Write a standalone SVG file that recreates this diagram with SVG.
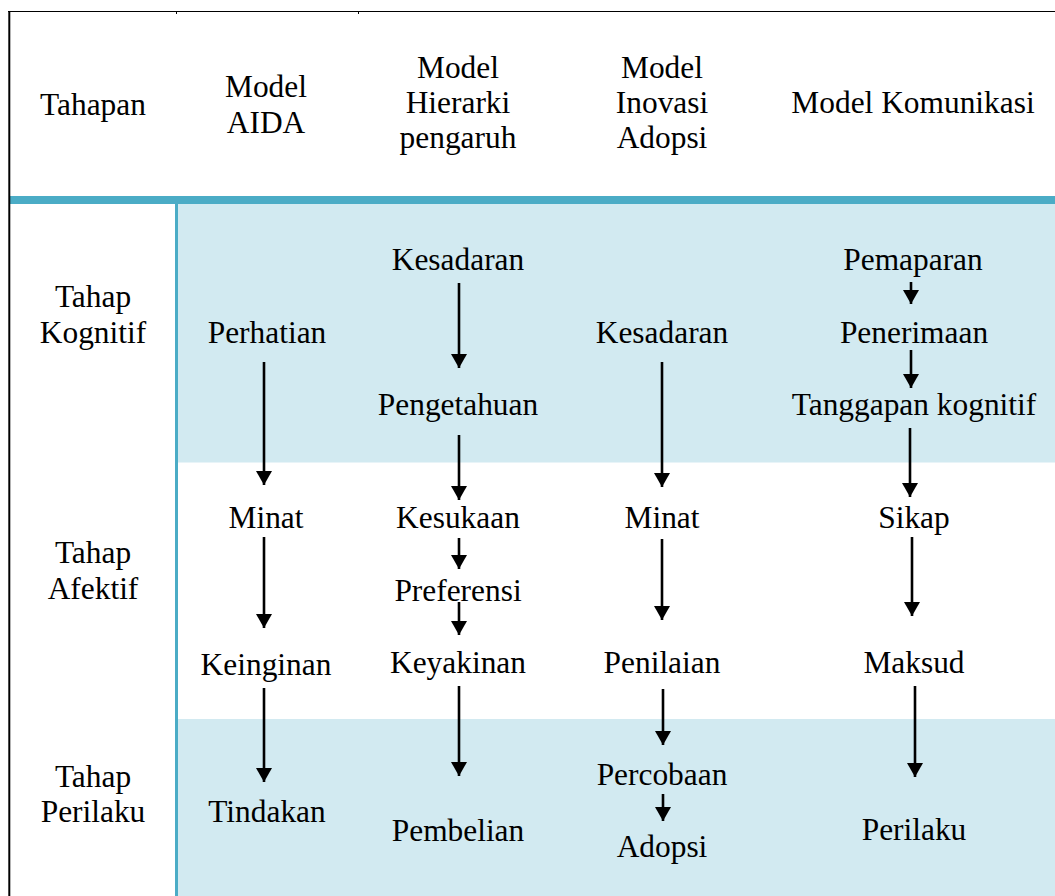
<svg xmlns="http://www.w3.org/2000/svg" width="1055" height="896" viewBox="0 0 1055 896">
<style>
text{font-size:31.4px;fill:#000;text-anchor:middle}
.band{fill:#D2EAF1}
.teal{fill:#4BACC6}
.arr{stroke:#000;stroke-width:2.6;fill:none;marker-end:url(#ah)}
</style>
<defs>
<marker id="ah" markerUnits="userSpaceOnUse" viewBox="0 0 14 16" refX="14" refY="8" markerWidth="14" markerHeight="16" orient="auto">
<path d="M0,0 L14,8 L0,16 z" fill="#000"/>
</marker>
</defs>
<rect width="1055" height="896" fill="#fff"/>
<g id="table">
<rect class="band" x="178" y="204" width="877" height="258.5"/>
<rect class="band" x="178" y="719" width="877" height="177"/>
<rect class="teal" x="9" y="196" width="1046" height="8"/>
<rect class="teal" x="175" y="204" width="3" height="692"/>
<line x1="8" y1="11.5" x2="1055" y2="11.5" stroke="#000" stroke-width="1.2"/>
<line x1="9.3" y1="11" x2="9.3" y2="896" stroke="#000" stroke-width="2"/>
<line x1="176.5" y1="11" x2="176.5" y2="14" stroke="#000" stroke-width="1"/>
<line x1="358.5" y1="11" x2="358.5" y2="14" stroke="#000" stroke-width="1"/>
</g>
<g font-family="Liberation Serif, DejaVu Serif, Times New Roman, serif">
<g id="header">
<g id="h-tahapan"><text x="93" y="115">Tahapan</text></g>
<g id="h-aida"><text x="266" y="97">Model</text><text x="266" y="133">AIDA</text></g>
<g id="h-hierarki"><text x="458" y="78">Model</text><text x="458" y="113">Hierarki</text><text x="458" y="148">pengaruh</text></g>
<g id="h-inovasi"><text x="662" y="78">Model</text><text x="662" y="113">Inovasi</text><text x="662" y="148">Adopsi</text></g>
<g id="h-komunikasi"><text x="913" y="113">Model Komunikasi</text></g>
</g>
<g id="stages">
<g id="s-kognitif"><text x="93" y="307">Tahap</text><text x="93" y="343">Kognitif</text></g>
<g id="s-afektif"><text x="93" y="563">Tahap</text><text x="93" y="599">Afektif</text></g>
<g id="s-perilaku"><text x="93" y="787">Tahap</text><text x="93" y="822">Perilaku</text></g>
</g>
<g id="aida">
<g id="n-perhatian"><text x="267" y="343">Perhatian</text></g>
<g id="n-minat1"><text x="266" y="528">Minat</text></g>
<g id="n-keinginan"><text x="266" y="675">Keinginan</text></g>
<g id="n-tindakan"><text x="267" y="822">Tindakan</text></g>
</g>
<g id="hierarki">
<g id="n-kesadaran1"><text x="458" y="270">Kesadaran</text></g>
<g id="n-pengetahuan"><text x="458" y="415">Pengetahuan</text></g>
<g id="n-kesukaan"><text x="458" y="528">Kesukaan</text></g>
<g id="n-preferensi"><text x="458" y="601">Preferensi</text></g>
<g id="n-keyakinan"><text x="458" y="673">Keyakinan</text></g>
<g id="n-pembelian"><text x="458" y="841">Pembelian</text></g>
</g>
<g id="inovasi">
<g id="n-kesadaran2"><text x="662" y="343">Kesadaran</text></g>
<g id="n-minat2"><text x="662" y="528">Minat</text></g>
<g id="n-penilaian"><text x="662" y="673">Penilaian</text></g>
<g id="n-percobaan"><text x="662" y="785">Percobaan</text></g>
<g id="n-adopsi"><text x="662" y="857">Adopsi</text></g>
</g>
<g id="komunikasi">
<g id="n-pemaparan"><text x="913" y="270">Pemaparan</text></g>
<g id="n-penerimaan"><text x="914" y="343">Penerimaan</text></g>
<g id="n-tanggapan"><text x="914" y="415">Tanggapan kognitif</text></g>
<g id="n-sikap"><text x="914" y="528">Sikap</text></g>
<g id="n-maksud"><text x="914" y="673">Maksud</text></g>
<g id="n-perilaku"><text x="914" y="840">Perilaku</text></g>
</g>
</g>
<g id="connectors">
<line class="arr" x1="264" y1="362" x2="264" y2="485"/>
<line class="arr" x1="264" y1="537" x2="264" y2="628"/>
<line class="arr" x1="264" y1="688" x2="264" y2="782"/>
<line class="arr" x1="459" y1="283" x2="459" y2="368"/>
<line class="arr" x1="459" y1="435" x2="459" y2="500"/>
<line class="arr" x1="459" y1="538" x2="459" y2="569"/>
<line class="arr" x1="459" y1="602" x2="459" y2="635"/>
<line class="arr" x1="459" y1="686" x2="459" y2="776"/>
<line class="arr" x1="662" y1="362" x2="662" y2="487"/>
<line class="arr" x1="662" y1="539" x2="662" y2="620"/>
<line class="arr" x1="663" y1="689" x2="663" y2="745"/>
<line class="arr" x1="663" y1="794" x2="663" y2="821"/>
<line class="arr" x1="911" y1="282" x2="911" y2="304"/>
<line class="arr" x1="911" y1="350" x2="911" y2="388"/>
<line class="arr" x1="910" y1="428" x2="910" y2="497"/>
<line class="arr" x1="912" y1="537" x2="912" y2="616"/>
<line class="arr" x1="915" y1="686" x2="915" y2="777"/>
</g>
</svg>
